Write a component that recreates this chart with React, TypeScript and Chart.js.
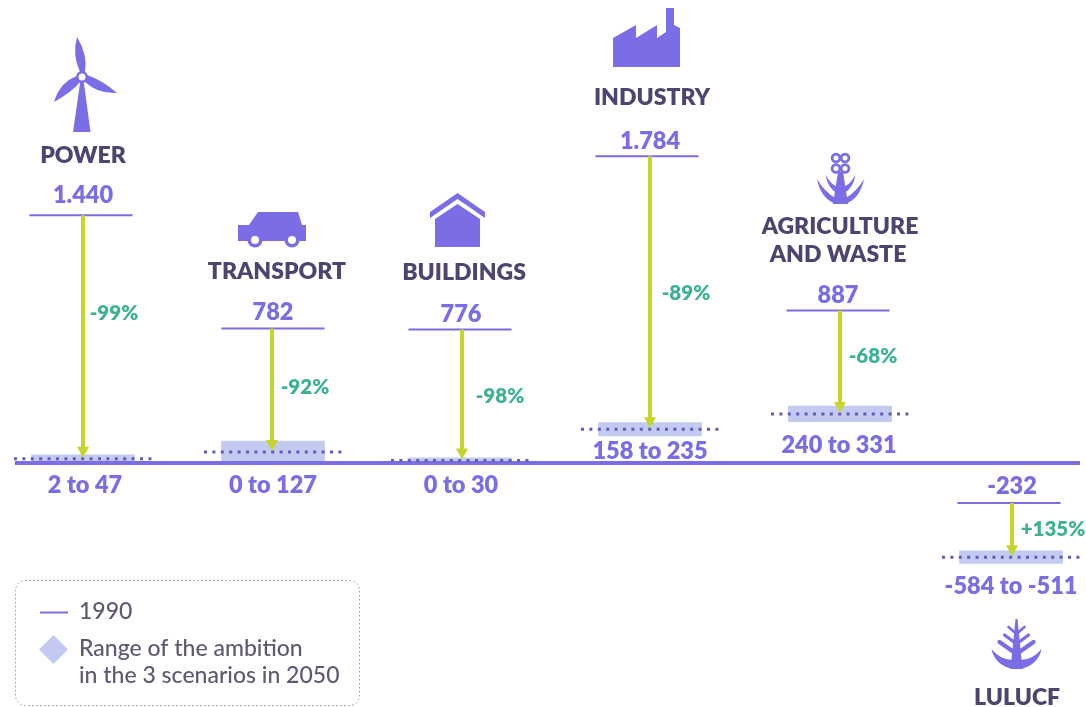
import React, { useEffect, useRef } from "react";
import { Chart, registerables } from "chart.js";

Chart.register(...registerables);

// ---------- data ----------
const sectors = ["POWER", "TRANSPORT", "BUILDINGS", "INDUSTRY", "AGRICULTURE AND WASTE", "LULUCF"];
const emissions1990 = [1440, 782, 776, 1784, 887, -232];
const labels1990 = ["1.440", "782", "776", "1.784", "887", "-232"];
const range2050Low = [2, 0, 0, 158, 240, -584];
const range2050High = [47, 127, 30, 235, 331, -511];
const rangeLabels = ["2 to 47", "0 to 127", "0 to 30", "158 to 235", "240 to 331", "-584 to -511"];
const changeLabels = ["-99%", "-92%", "-98%", "-89%", "-68%", "+135%"];

// ---------- layout (not data) ----------
const W = 1086, H = 707;
const BASE_Y = 463, PX_PER_UNIT = 0.172;
const colX = [83, 272, 462, 650, 840, 1012];
const tickDx = [-2, 1, -2, -3, -2, -3];
const bandDx = [0, 1, -2, 0, 0, -1];
const TICK_HALF = 51.5, BAND_W = 103, DOT_HALF = 69;
const PURPLE = "#7b6de6", DARK = "#4b466f", TEAL = "#3fb196", LIME = "#c5d52d", BAND = "#c2caf2", DOT = "#625bb8", LEGEND_TEXT = "#5c5a72";
const TITLE_FONT = "800 23px Lato, sans-serif";
const VALUE_FONT = "800 23.5px Lato, sans-serif";
const PCT_FONT = "800 20.5px Lato, sans-serif";
const LEGEND_FONT = "500 23px Lato, sans-serif";

const titlePos: [string, number, number][][] = [
  [["POWER", 83, 156]],
  [["TRANSPORT", 277, 272]],
  [["BUILDINGS", 464, 273]],
  [["INDUSTRY", 652, 98]],
  [["AGRICULTURE", 840, 227], ["AND WASTE", 838, 255]],
  [["LULUCF", 1017, 698]],
];
const valuePos = [[83, 195], [273, 312], [461, 314], [650, 141], [838, 295], [1012, 486]];
const rangePos = [[85, 485], [273, 485], [461, 485], [650, 451], [839, 445], [1011, 586]];
const pctPos = [[114, 313], [305, 387], [500, 396], [686, 293], [873, 356], [1053, 529]];

function gapped(pair: (i: number) => { x: number; y: number }[]) {
  const out: any[] = [];
  sectors.forEach((_, i) => {
    out.push(...pair(i));
    out.push({ x: colX[i], y: null });
  });
  return out;
}
const mid = (i: number) => (range2050Low[i] + range2050High[i]) / 2;

// ---------- icons ----------
function turbine(c: CanvasRenderingContext2D) {
  c.beginPath();
  c.moveTo(80.5, 80); c.lineTo(83.5, 80); c.lineTo(90.5, 132); c.lineTo(73, 132); c.closePath(); c.fill();
  c.beginPath();
  c.moveTo(80, 72); c.quadraticCurveTo(72, 55, 77, 37); c.quadraticCurveTo(88, 55, 85, 72); c.closePath(); c.fill();
  c.beginPath();
  c.moveTo(77, 76); c.quadraticCurveTo(60, 82, 54, 102); c.quadraticCurveTo(72, 92, 80, 82); c.closePath(); c.fill();
  c.beginPath();
  c.moveTo(87, 75); c.quadraticCurveTo(102, 80, 117, 93); c.quadraticCurveTo(98, 94, 85, 82); c.closePath(); c.fill();
  c.beginPath(); c.arc(82, 77, 6, 0, 7); c.fill();
  c.fillStyle = "#fff"; c.beginPath(); c.arc(82, 77, 3.5, 0, 7); c.fill(); c.fillStyle = PURPLE;
}
function car(c: CanvasRenderingContext2D) {
  c.beginPath();
  c.moveTo(238, 225); c.lineTo(249, 225); c.lineTo(258, 212); c.lineTo(298, 212); c.lineTo(302, 225);
  c.lineTo(306, 225); c.lineTo(306, 241); c.lineTo(238, 241); c.closePath(); c.fill();
  for (const x of [255, 292]) {
    c.beginPath(); c.arc(x, 240, 7.5, 0, 7); c.fill();
    c.fillStyle = "#fff"; c.beginPath(); c.arc(x, 240, 4, 0, 7); c.fill(); c.fillStyle = PURPLE;
  }
}
function house(c: CanvasRenderingContext2D) {
  c.beginPath();
  c.moveTo(430, 212); c.lineTo(457.5, 193); c.lineTo(485, 212); c.lineTo(485, 218); c.lineTo(457.5, 199); c.lineTo(430, 218); c.closePath(); c.fill();
  c.beginPath();
  c.moveTo(457.5, 204); c.lineTo(480, 219); c.lineTo(480, 247); c.lineTo(435, 247); c.lineTo(435, 219); c.closePath(); c.fill();
}
function factory(c: CanvasRenderingContext2D) {
  c.beginPath();
  c.moveTo(613, 38); c.lineTo(636, 25); c.lineTo(636, 38); c.lineTo(657, 25); c.lineTo(657, 38); c.lineTo(666, 32);
  c.lineTo(666, 8); c.lineTo(674, 8); c.lineTo(674, 25); c.lineTo(680, 28); c.lineTo(680, 67); c.lineTo(613, 67); c.closePath(); c.fill();
}
function plant(c: CanvasRenderingContext2D) {
  c.save();
  c.strokeStyle = PURPLE; c.lineWidth = 2.8;
  for (const [x, y] of [[836, 158], [845, 158], [836, 168.5], [845, 168.5]]) {
    c.beginPath(); c.arc(x, y, 3.9, 0, 7); c.stroke();
  }
  c.restore();
  c.beginPath(); c.moveTo(838, 172); c.lineTo(843, 172); c.lineTo(848, 204); c.lineTo(833, 204); c.closePath(); c.fill();
  for (const s of [-1, 1]) {
    const x = (d: number) => 840.5 + s * d;
    c.beginPath(); c.moveTo(x(23.5), 179); c.quadraticCurveTo(x(20), 197, x(7), 203); c.lineTo(x(5), 198); c.quadraticCurveTo(x(16), 192, x(23.5), 179); c.closePath(); c.fill();
    c.beginPath(); c.moveTo(x(15), 175); c.quadraticCurveTo(x(13), 187, x(4), 193); c.lineTo(x(3), 187); c.quadraticCurveTo(x(10), 184, x(15), 175); c.closePath(); c.fill();
  }
}
function tree(c: CanvasRenderingContext2D) {
  const x0 = 1016.5;
  c.beginPath(); c.moveTo(x0 - 1, 619); c.lineTo(x0 + 1, 619); c.lineTo(x0 + 6, 669); c.lineTo(x0 - 6, 669); c.closePath(); c.fill();
  c.save(); c.strokeStyle = PURPLE; c.lineCap = "round";
  const rows = [[8, 627, 634, 2.6], [12, 635, 644, 3.2], [17, 642, 654, 4.2]];
  for (const s of [-1, 1]) {
    for (const [d, top, bot, w] of rows) {
      c.lineWidth = w;
      c.beginPath(); c.moveTo(x0 + s * d, top); c.lineTo(x0, bot); c.stroke();
    }
  }
  c.restore();
  for (const s of [-1, 1]) {
    c.beginPath(); c.moveTo(x0 + s * 25, 649); c.quadraticCurveTo(x0 + s * 22, 664, x0 + s * 5, 669); c.lineTo(x0 + s * 4, 660); c.quadraticCurveTo(x0 + s * 16, 660, x0 + s * 25, 649); c.closePath(); c.fill();
  }
}
const icons = [turbine, car, house, factory, plant, tree];

// ---------- plugin: arrowheads, text, icons, legend ----------
const overlay = {
  id: "overlay",
  afterDatasetsDraw(chart: any) {
    const c: CanvasRenderingContext2D = chart.ctx;
    const xS = chart.scales.x, yS = chart.scales.y;
    c.save();
    c.fillStyle = LIME;
    sectors.forEach((_, i) => {
      const x = xS.getPixelForValue(colX[i]);
      const tip = yS.getPixelForValue(mid(i)) - 1;
      c.beginPath(); c.moveTo(x - 6, tip - 11); c.lineTo(x + 6, tip - 11); c.lineTo(x, tip); c.closePath(); c.fill();
    });
    c.fillStyle = PURPLE;
    icons.forEach((draw) => draw(c));
    c.textAlign = "center"; c.textBaseline = "middle";
    c.fillStyle = DARK; c.font = TITLE_FONT;
    titlePos.flat().forEach(([t, x, y]) => c.fillText(t, x, y));
    c.fillStyle = PURPLE; c.font = VALUE_FONT;
    labels1990.forEach((t, i) => c.fillText(t, valuePos[i][0], valuePos[i][1]));
    rangeLabels.forEach((t, i) => c.fillText(t, rangePos[i][0], rangePos[i][1]));
    c.fillStyle = TEAL; c.font = PCT_FONT;
    changeLabels.forEach((t, i) => c.fillText(t, pctPos[i][0], pctPos[i][1]));

    // legend
    c.strokeStyle = "#8f8fa8"; c.lineWidth = 1; c.setLineDash([1.5, 2.5]);
    c.beginPath(); c.roundRect(15.5, 580.5, 344, 125, 10); c.stroke();
    c.setLineDash([]);
    c.strokeStyle = PURPLE; c.lineWidth = 2;
    c.beginPath(); c.moveTo(40, 612.5); c.lineTo(68, 612.5); c.stroke();
    c.fillStyle = BAND;
    c.beginPath(); c.moveTo(53.5, 635); c.lineTo(68, 649.5); c.lineTo(53.5, 664); c.lineTo(39, 649.5); c.closePath(); c.fill();
    c.textAlign = "left"; c.fillStyle = LEGEND_TEXT; c.font = LEGEND_FONT;
    c.fillText("1990", 79, 612);
    c.fillText("Range of the ambition", 79, 649);
    c.fillText("in the 3 scenarios in 2050", 79, 676);
    c.restore();
  },
};

export default function App() {
  const ref = useRef<HTMLCanvasElement>(null);
  useEffect(() => {
    document.body.style.margin = "0";
    document.body.style.background = "#fff";
    const chart = new Chart(ref.current!, {
      type: "bar",
      plugins: [overlay],
      data: {
        datasets: [
          {
            type: "bar", label: "Range of the ambition in the 3 scenarios in 2050", order: 5,
            data: sectors.map((_, i) => ({ x: colX[i] + bandDx[i], y: [range2050Low[i], range2050High[i]] })),
            backgroundColor: BAND, barThickness: BAND_W, borderWidth: 0,
          },
          {
            type: "line", label: "Axis", order: 4,
            data: [{ x: 15, y: 0 }, { x: 1080, y: 0 }],
            borderColor: PURPLE, borderWidth: 4, pointRadius: 0,
          },
          {
            type: "line", label: "Scenario range midpoint", order: 3, spanGaps: false,
            data: gapped((i) => [
              { x: colX[i] + bandDx[i] - DOT_HALF, y: mid(i) },
              { x: colX[i] + bandDx[i] + DOT_HALF, y: mid(i) },
            ]),
            borderColor: DOT, borderWidth: 3, borderDash: [3, 5.4], pointRadius: 0,
          },
          {
            type: "line", label: "1990", order: 2, spanGaps: false,
            data: gapped((i) => [
              { x: colX[i] + tickDx[i] - TICK_HALF, y: emissions1990[i] },
              { x: colX[i] + tickDx[i] + TICK_HALF, y: emissions1990[i] },
            ]),
            borderColor: PURPLE, borderWidth: 2, pointRadius: 0,
          },
          {
            type: "line", label: "Change", order: 1, spanGaps: false,
            data: gapped((i) => [
              { x: colX[i], y: emissions1990[i] },
              { x: colX[i], y: mid(i) + 8 * (1 / PX_PER_UNIT) },
            ]),
            borderColor: LIME, borderWidth: 4, pointRadius: 0,
          },
        ],
      } as any,
      options: {
        responsive: false,
        animation: false,
        layout: { padding: 0 },
        plugins: { legend: { display: false }, tooltip: { enabled: false } },
        scales: {
          x: { type: "linear", display: false, min: 0, max: W, offset: false },
          y: { type: "linear", display: false, min: -(H - BASE_Y) / PX_PER_UNIT, max: BASE_Y / PX_PER_UNIT },
        },
      },
    } as any);
    return () => chart.destroy();
  }, []);
  return <canvas ref={ref} width={W} height={H} style={{ display: "block" }} />;
}
